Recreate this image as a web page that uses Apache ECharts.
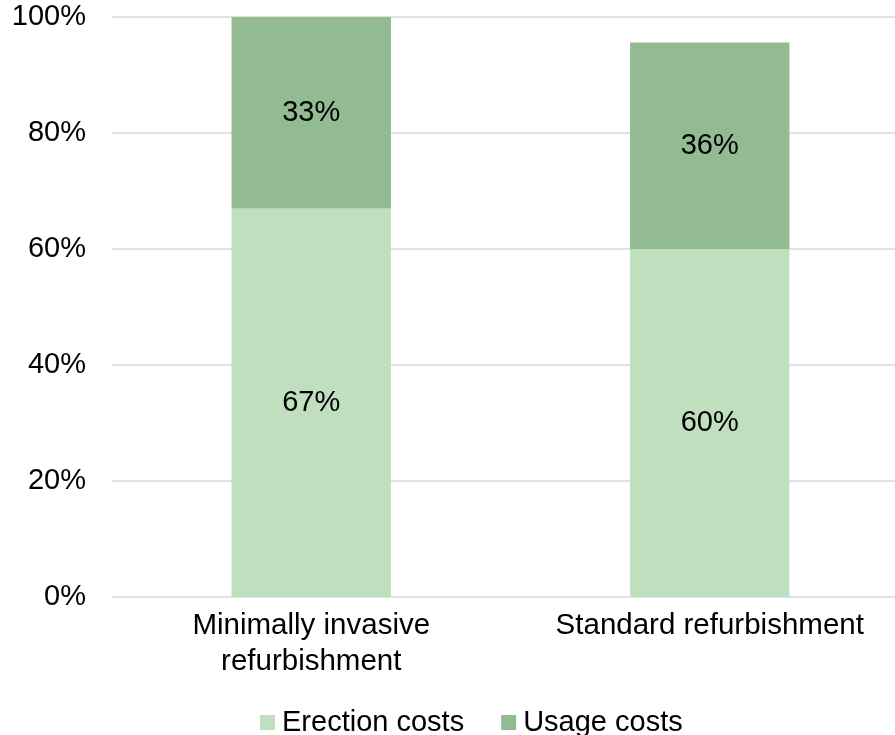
<!DOCTYPE html>
<html>
<head>
<meta charset="utf-8">
<script src="https://cdn.jsdelivr.net/npm/echarts@6/dist/echarts.min.js"></script>
<style>
  html, body { margin: 0; padding: 0; background: #fff; }
  #main { width: 895px; height: 735px; }
</style>
</head>
<body>
<div id="main"></div>
<script>
var categories = ['Minimally invasive\nrefurbishment', 'Standard refurbishment'];
var erectionCosts = [67, 60];
var usageCosts = [33, 35.6];
var yTicks = [0, 20, 40, 60, 80, 100];

var myChart = echarts.init(document.getElementById('main'));
var font = 'Liberation Sans, Arial, sans-serif';

function pctLabel(p) {
    return Math.round(p.value) + '%';
}

option = {
    animation: false,
    textStyle: { fontFamily: font },
    grid: {
        left: 112,
        top: 17,
        width: 797,
        height: 580,
        containLabel: false,
        outerBoundsMode: 'none'
    },
    legend: {
        top: 703,
        left: 255,
        itemWidth: 15,
        itemHeight: 15,
        itemGap: 37,
        icon: 'rect',
        textStyle: { fontSize: 29, color: '#000', fontFamily: font, padding: [0, 0, 0, 2] },
        data: ['Erection costs', 'Usage costs']
    },
    xAxis: {
        type: 'category',
        data: categories,
        axisLine: { show: false },
        axisTick: { show: false },
        axisLabel: {
            fontSize: 29.5,
            color: '#000',
            lineHeight: 36,
            margin: 11,
            interval: 0
        }
    },
    yAxis: {
        type: 'value',
        min: yTicks[0],
        max: yTicks[yTicks.length - 1],
        interval: 20,
        axisLine: { show: false },
        axisTick: { show: false },
        splitLine: { lineStyle: { color: '#d9d9d9', width: 1.5 } },
        axisLabel: {
            fontSize: 29,
            color: '#000',
            margin: 26,
            formatter: '{value}%'
        }
    },
    series: [
        {
            name: 'Erection costs',
            type: 'bar',
            stack: 'total',
            barWidth: '40%',
            data: erectionCosts,
            itemStyle: { color: '#bfdfbf' },
            label: { show: true, position: 'inside', fontSize: 29, color: '#000', formatter: pctLabel }
        },
        {
            name: 'Usage costs',
            type: 'bar',
            stack: 'total',
            barWidth: '40%',
            data: usageCosts,
            itemStyle: { color: '#92bb92' },
            label: { show: true, position: 'inside', fontSize: 29, color: '#000', formatter: pctLabel }
        }
    ]
};

myChart.setOption(option);
</script>
</body>
</html>
